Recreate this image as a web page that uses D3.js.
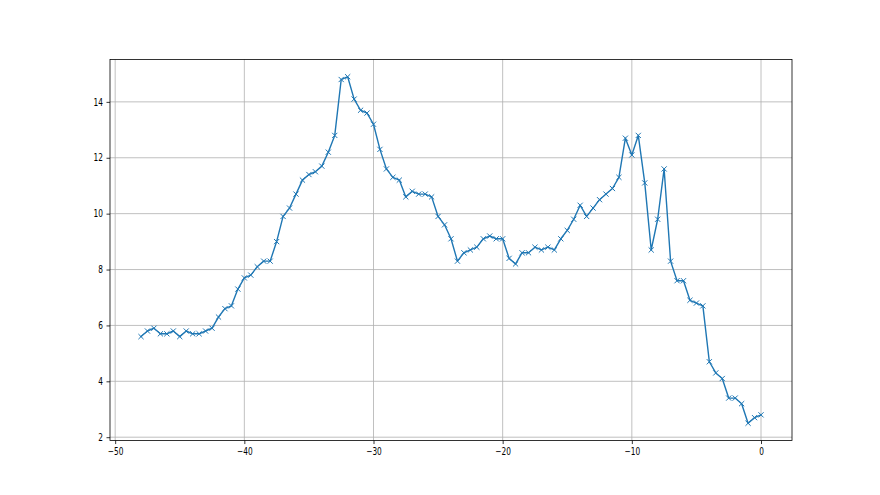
<!DOCTYPE html>
<html>
<head>
<meta charset="utf-8">
<script src="https://cdn.jsdelivr.net/npm/d3@7"></script>
<style>
  html, body { margin: 0; padding: 0; background: #fff; }
  svg { display: block; }
</style>
</head>
<body>
<div id="chart"></div>
<script>
const xValues = [
  -48, -47.5, -47, -46.5, -46, -45.5, -45, -44.5, -44, -43.5,
  -43, -42.5, -42, -41.5, -41, -40.5, -40, -39.5, -39, -38.5,
  -38, -37.5, -37, -36.5, -36, -35.5, -35, -34.5, -34, -33.5,
  -33, -32.5, -32, -31.5, -31, -30.5, -30, -29.5, -29, -28.5,
  -28, -27.5, -27, -26.5, -26, -25.5, -25, -24.5, -24, -23.5,
  -23, -22.5, -22, -21.5, -21, -20.5, -20, -19.5, -19, -18.5,
  -18, -17.5, -17, -16.5, -16, -15.5, -15, -14.5, -14, -13.5,
  -13, -12.5, -12, -11.5, -11, -10.5, -10, -9.5, -9, -8.5,
  -8, -7.5, -7, -6.5, -6, -5.5, -5, -4.5, -4, -3.5,
  -3, -2.5, -2, -1.5, -1, -0.5, 0
];
const yValues = [
  5.6, 5.8, 5.9, 5.7, 5.7, 5.8, 5.6, 5.8, 5.7, 5.7,
  5.8, 5.9, 6.3, 6.6, 6.7, 7.3, 7.7, 7.8, 8.1, 8.3,
  8.3, 9.0, 9.9, 10.2, 10.7, 11.2, 11.4, 11.5, 11.7, 12.2,
  12.8, 14.8, 14.9, 14.1, 13.7, 13.6, 13.2, 12.3, 11.6, 11.3,
  11.2, 10.6, 10.8, 10.7, 10.7, 10.6, 9.9, 9.6, 9.1, 8.3,
  8.6, 8.7, 8.8, 9.1, 9.2, 9.1, 9.1, 8.4, 8.2, 8.6,
  8.6, 8.8, 8.7, 8.8, 8.7, 9.1, 9.4, 9.8, 10.3, 9.9,
  10.2, 10.5, 10.7, 10.9, 11.3, 12.7, 12.1, 12.8, 11.1, 8.7,
  9.8, 11.6, 8.3, 7.6, 7.6, 6.9, 6.8, 6.7, 4.7, 4.3,
  4.1, 3.4, 3.4, 3.2, 2.5, 2.7, 2.8
];
const xTicks = [-50, -40, -30, -20, -10, 0];
const yTicks = [2, 4, 6, 8, 10, 12, 14];

const W = 880, H = 495;
const margin = { left: 110, right: 88, top: 59.4, bottom: 54.45 };
const innerW = W - margin.left - margin.right;
const innerH = H - margin.top - margin.bottom;

const data = xValues.map((x, i) => ({ x, y: yValues[i] }));

const xMin = d3.min(xValues), xMax = d3.max(xValues);
const yMin = d3.min(yValues), yMax = d3.max(yValues);
const xPad = (xMax - xMin) * 0.05, yPad = (yMax - yMin) * 0.05;

const x = d3.scaleLinear().domain([xMin - xPad, xMax + xPad]).range([0, innerW]);
const y = d3.scaleLinear().domain([yMin - yPad, yMax + yPad]).range([innerH, 0]);

const svg = d3.select("#chart").append("svg")
  .attr("width", W).attr("height", H);

const g = svg.append("g").attr("transform", `translate(${margin.left},${margin.top})`);

const fmt = d => (d < 0 ? "\u2212" + Math.abs(d) : String(d));

// grid
g.append("g").selectAll("line").data(xTicks).join("line")
  .attr("x1", d => x(d)).attr("x2", d => x(d))
  .attr("y1", 0).attr("y2", innerH)
  .attr("stroke", "#b0b0b0").attr("stroke-width", 0.8);
g.append("g").selectAll("line").data(yTicks).join("line")
  .attr("y1", d => y(d)).attr("y2", d => y(d))
  .attr("x1", 0).attr("x2", innerW)
  .attr("stroke", "#b0b0b0").attr("stroke-width", 0.8);

// line
const line = d3.line().x(d => x(d.x)).y(d => y(d.y));
g.append("path").datum(data)
  .attr("d", line)
  .attr("fill", "none")
  .attr("stroke", "#1f77b4")
  .attr("stroke-width", 1.4)
  .attr("stroke-linejoin", "round")
  .attr("stroke-linecap", "square");

// markers 'x'
const ms = 2.6;
g.append("g").selectAll("path").data(data).join("path")
  .attr("d", d => {
    const cx = x(d.x), cy = y(d.y);
    return `M${cx - ms},${cy - ms}L${cx + ms},${cy + ms}M${cx - ms},${cy + ms}L${cx + ms},${cy - ms}`;
  })
  .attr("stroke", "#1f77b4")
  .attr("stroke-width", 1)
  .attr("fill", "none");

// axes
const sx = 0.74;
const xAxis = d3.axisBottom(x).tickValues(xTicks).tickFormat(fmt).tickSizeInner(3.5).tickSizeOuter(0).tickPadding(3.5);
const yAxis = d3.axisLeft(y).tickValues(yTicks).tickFormat(fmt).tickSizeInner(3.5).tickSizeOuter(0).tickPadding(3.5);

const gx = g.append("g").attr("transform", `translate(0,${innerH})`).call(xAxis);
const gy = g.append("g").call(yAxis);
[gx, gy].forEach(a => {
  a.select(".domain").remove();
  a.selectAll(".tick line").attr("stroke", "#000").attr("stroke-width", 0.8);
  a.selectAll(".tick text").attr("fill", "#000")
    .style("font-family", "'DejaVu Sans', sans-serif").style("font-size", "10px")
    .attr("transform", `scale(${sx},1)`);
});
gy.selectAll(".tick text").attr("x", -7 / sx);

// spines
g.append("rect").attr("x", 0).attr("y", 0).attr("width", innerW).attr("height", innerH)
  .attr("fill", "none").attr("stroke", "#000").attr("stroke-width", 0.8);
</script>
</body>
</html>
